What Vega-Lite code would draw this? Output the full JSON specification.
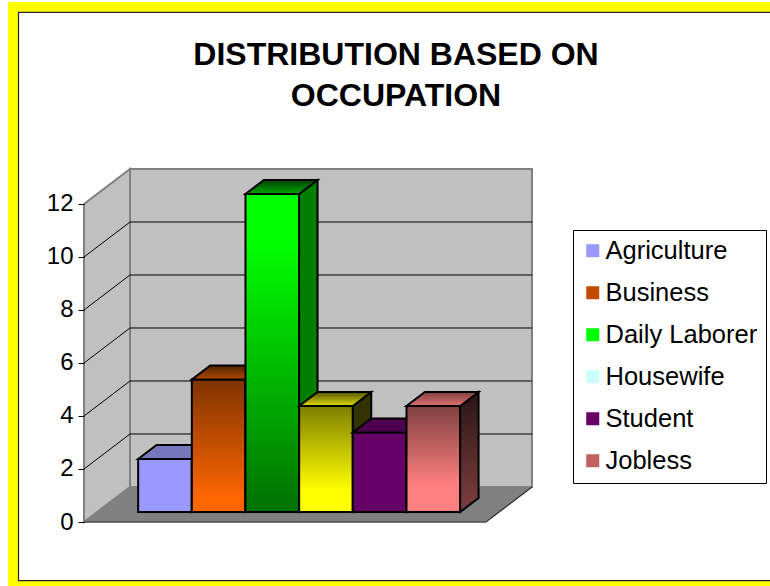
{
"$schema":"https://vega.github.io/schema/vega-lite/v6.json",
"width":448,"height":352,"autosize":"none",
"padding":{"left":84,"top":170,"right":238,"bottom":64},
"background":"white",
"title":{"text":["DISTRIBUTION BASED ON","OCCUPATION"],"anchor":"middle","frame":"group","dx":88,"font":"Liberation Sans","fontSize":32,"fontWeight":"bold","color":"black","lineHeight":41,"offset":-111,"align":"center","zindex":1},
"datasets":{
"bars":[
{"occupation":"Agriculture","value":2,"slot":0},
{"occupation":"Business","value":5,"slot":1},
{"occupation":"Daily Laborer","value":12,"slot":2},
{"occupation":"Housewife","value":4,"slot":3},
{"occupation":"Student","value":3,"slot":4},
{"occupation":"Jobless","value":4,"slot":5}],
"room":[
{"shape":"left","n":0,"u":0,"v":0,"depth":0},{"shape":"left","n":1,"u":0,"v":12,"depth":0},{"shape":"left","n":2,"u":0,"v":12,"depth":1},{"shape":"left","n":3,"u":0,"v":0,"depth":1},
{"shape":"back","n":0,"u":0,"v":0,"depth":1},{"shape":"back","n":1,"u":7.49,"v":0,"depth":1},{"shape":"back","n":2,"u":7.49,"v":12,"depth":1},{"shape":"back","n":3,"u":0,"v":12,"depth":1},
{"shape":"floor","n":0,"u":0,"v":0,"depth":0},{"shape":"floor","n":1,"u":7.49,"v":0,"depth":0},{"shape":"floor","n":2,"u":7.49,"v":0,"depth":1},{"shape":"floor","n":3,"u":0,"v":0,"depth":1},
{"shape":"edge","n":0,"u":0,"v":0,"depth":0},{"shape":"edge","n":1,"u":7.49,"v":0,"depth":0},{"shape":"edge","n":2,"u":7.49,"v":0,"depth":1}],
"grid":[{"tick":2},{"tick":4},{"tick":6},{"tick":8},{"tick":10}]
},
"layer":[
{"data":{"values":[{"x0":-1.416,"x1":13,"y0":-3,"y1":19.62}]},
 "mark":{"type":"rect","fill":"#FFFF00"},
 "encoding":{"x":{"field":"x0","type":"quantitative","scale":{"domain":[0,8.347],"nice":false,"zero":false},"axis":null},"x2":{"field":"x1"},"y":{"field":"y0","type":"quantitative","scale":{"domain":[0,13.283],"nice":false,"zero":false},"axis":{"title":null,"zindex":1,"values":[0,2,4,6,8,10,12],"domain":false,"grid":false,"tickSize":6,"tickColor":"black","tickWidth":1,"labelFont":"Liberation Sans","labelFontSize":24,"labelColor":"black","labelPadding":5}},"y2":{"field":"y1"}}},
{"data":{"values":[{"x0":-1.22,"x1":13,"y0":-2.21,"y1":19.23}]},
 "mark":{"type":"rect","fill":"white","stroke":"#222222","strokeWidth":1.2},
 "encoding":{"x":{"field":"x0","type":"quantitative"},"x2":{"field":"x1"},"y":{"field":"y0","type":"quantitative"},"y2":{"field":"y1"}}},
{"data":{"name":"room"},
 "transform":[{"filter":"datum.shape=='left'||datum.shape=='back'"},{"calculate":"datum.u+datum.depth*0.857","as":"px"},{"calculate":"datum.v+datum.depth*1.321","as":"py"}],
 "mark":{"type":"line","interpolate":"linear-closed","fill":"#C0C0C0","stroke":"#808080","strokeWidth":2},
 "encoding":{"x":{"field":"px","type":"quantitative"},"y":{"field":"py","type":"quantitative"},"detail":{"field":"shape"},"order":{"field":"n"}}},
{"data":{"name":"room"},
 "transform":[{"filter":"datum.shape=='floor'"},{"calculate":"datum.u+datum.depth*0.857","as":"px"},{"calculate":"datum.v+datum.depth*1.321","as":"py"}],
 "mark":{"type":"line","interpolate":"linear-closed","fill":"#808080","stroke":"#808080","strokeWidth":1},
 "encoding":{"x":{"field":"px","type":"quantitative"},"y":{"field":"py","type":"quantitative"},"order":{"field":"n"}}},
{"data":{"name":"room"},
 "transform":[{"filter":"datum.shape=='edge'"},{"calculate":"datum.u+datum.depth*0.857","as":"px"},{"calculate":"datum.v+datum.depth*1.321","as":"py"}],
 "mark":{"type":"line","stroke":"#303030","strokeWidth":1.2},
 "encoding":{"x":{"field":"px","type":"quantitative"},"y":{"field":"py","type":"quantitative"},"order":{"field":"n"}}},
{"data":{"name":"grid"},
 "transform":[{"calculate":"[0,1,2]","as":"n"},{"flatten":["n"]},{"calculate":"datum.n==2?7.49:0","as":"u"},{"calculate":"datum.n==0?0:1","as":"depth"},{"calculate":"datum.u+datum.depth*0.857","as":"px"},{"calculate":"datum.tick+datum.depth*1.321","as":"py"}],
 "mark":{"type":"line","stroke":"black","strokeWidth":1},
 "encoding":{"x":{"field":"px","type":"quantitative"},"y":{"field":"py","type":"quantitative"},"detail":{"field":"tick"},"order":{"field":"n"}}},
{"data":{"name":"bars"},
 "transform":[
 {"calculate":"['front','side','top']","as":"face"},{"flatten":["face"]},
 {"calculate":"[0,1,2,3]","as":"corner"},{"flatten":["corner"]},
 {"calculate":"datum.occupation+'|'+datum.face","as":"faceKey"},
 {"calculate":"datum.face=='side'?1:((datum.corner==1||datum.corner==2)?1:0)","as":"u"},
 {"calculate":"datum.face=='front'?0:(datum.face=='side'?((datum.corner==1||datum.corner==2)?1:0):(datum.corner>=2?1:0))","as":"d"},
 {"calculate":"datum.face=='top'?datum.value:(datum.corner>=2?datum.value:0)","as":"h"},
 {"calculate":"0.2857+0.4*datum.d","as":"depth"},
 {"calculate":"0.764+datum.slot+datum.u+datum.depth*0.857","as":"px"},
 {"calculate":"datum.h+datum.depth*1.321","as":"py"}],
 "encoding":{"x":{"field":"px","type":"quantitative"},"y":{"field":"py","type":"quantitative"},"order":{"field":"corner"}},
 "layer":[
 {"transform":[{"filter":"datum.faceKey=='Agriculture|front'"}],"mark":{"type":"line","interpolate":"linear-closed","stroke":"black","strokeWidth":2,"fill":"#9999FF"}},
 {"transform":[{"filter":"datum.faceKey=='Agriculture|side'"}],"mark":{"type":"line","interpolate":"linear-closed","stroke":"black","strokeWidth":2,"fill":"#4C4C7F"}},
 {"transform":[{"filter":"datum.faceKey=='Agriculture|top'"}],"mark":{"type":"line","interpolate":"linear-closed","stroke":"black","strokeWidth":2,"fill":"#7777BB"}},
 {"transform":[{"filter":"datum.faceKey=='Business|front'"}],"mark":{"type":"line","interpolate":"linear-closed","stroke":"black","strokeWidth":2,"fill":{"gradient":"linear","x1":0,"y1":0,"x2":0,"y2":1,"stops":[{"offset":0,"color":"#7F3300"},{"offset":0.9,"color":"#FF6600"},{"offset":1,"color":"#FF6600"}]}}},
 {"transform":[{"filter":"datum.faceKey=='Business|side'"}],"mark":{"type":"line","interpolate":"linear-closed","stroke":"black","strokeWidth":2,"fill":"#7F3300"}},
 {"transform":[{"filter":"datum.faceKey=='Business|top'"}],"mark":{"type":"line","interpolate":"linear-closed","stroke":"black","strokeWidth":2,"fill":{"gradient":"linear","x1":0,"y1":0,"x2":0,"y2":1,"stops":[{"offset":0,"color":"#502000"},{"offset":1,"color":"#B04800"}]}}},
 {"transform":[{"filter":"datum.faceKey=='Daily Laborer|front'"}],"mark":{"type":"line","interpolate":"linear-closed","stroke":"black","strokeWidth":2,"fill":{"gradient":"linear","x1":0,"y1":0,"x2":0,"y2":1,"stops":[{"offset":0,"color":"#00FF00"},{"offset":0.15,"color":"#00FF00"},{"offset":1,"color":"#007000"}]}}},
 {"transform":[{"filter":"datum.faceKey=='Daily Laborer|side'"}],"mark":{"type":"line","interpolate":"linear-closed","stroke":"black","strokeWidth":2,"fill":"#007F00"}},
 {"transform":[{"filter":"datum.faceKey=='Daily Laborer|top'"}],"mark":{"type":"line","interpolate":"linear-closed","stroke":"black","strokeWidth":2,"fill":{"gradient":"linear","x1":0,"y1":0,"x2":0,"y2":1,"stops":[{"offset":0,"color":"#004000"},{"offset":1,"color":"#00A800"}]}}},
 {"transform":[{"filter":"datum.faceKey=='Housewife|front'"}],"mark":{"type":"line","interpolate":"linear-closed","stroke":"black","strokeWidth":2,"fill":{"gradient":"linear","x1":0,"y1":0,"x2":0,"y2":1,"stops":[{"offset":0,"color":"#7F7F00"},{"offset":0.8,"color":"#FFFF00"},{"offset":1,"color":"#FFFF00"}]}}},
 {"transform":[{"filter":"datum.faceKey=='Housewife|side'"}],"mark":{"type":"line","interpolate":"linear-closed","stroke":"black","strokeWidth":2,"fill":"#333300"}},
 {"transform":[{"filter":"datum.faceKey=='Housewife|top'"}],"mark":{"type":"line","interpolate":"linear-closed","stroke":"black","strokeWidth":2,"fill":{"gradient":"linear","x1":0,"y1":0,"x2":0,"y2":1,"stops":[{"offset":0,"color":"#555500"},{"offset":1,"color":"#DDDD00"}]}}},
 {"transform":[{"filter":"datum.faceKey=='Student|front'"}],"mark":{"type":"line","interpolate":"linear-closed","stroke":"black","strokeWidth":2,"fill":"#660066"}},
 {"transform":[{"filter":"datum.faceKey=='Student|side'"}],"mark":{"type":"line","interpolate":"linear-closed","stroke":"black","strokeWidth":2,"fill":"#330033"}},
 {"transform":[{"filter":"datum.faceKey=='Student|top'"}],"mark":{"type":"line","interpolate":"linear-closed","stroke":"black","strokeWidth":2,"fill":"#4D004D"}},
 {"transform":[{"filter":"datum.faceKey=='Jobless|front'"}],"mark":{"type":"line","interpolate":"linear-closed","stroke":"black","strokeWidth":2,"fill":{"gradient":"linear","x1":0,"y1":0,"x2":0,"y2":1,"stops":[{"offset":0,"color":"#804040"},{"offset":0.75,"color":"#FF8080"},{"offset":1,"color":"#FF8080"}]}}},
 {"transform":[{"filter":"datum.faceKey=='Jobless|side'"}],"mark":{"type":"line","interpolate":"linear-closed","stroke":"black","strokeWidth":2,"fill":{"gradient":"linear","x1":0,"y1":0,"x2":0,"y2":1,"stops":[{"offset":0,"color":"#2A1515"},{"offset":1,"color":"#804040"}]}}},
 {"transform":[{"filter":"datum.faceKey=='Jobless|top'"}],"mark":{"type":"line","interpolate":"linear-closed","stroke":"black","strokeWidth":2,"fill":{"gradient":"linear","x1":0,"y1":0,"x2":0,"y2":1,"stops":[{"offset":0,"color":"#804040"},{"offset":1,"color":"#E07070"}]}}}
 ]},
{"data":{"name":"bars"},
 "mark":{"type":"point","filled":true,"size":0},
 "encoding":{"x":{"field":"slot","type":"quantitative"},"y":{"field":"value","type":"quantitative"},
 "color":{"field":"occupation","type":"nominal","sort":null,"scale":{"domain":["Agriculture","Business","Daily Laborer","Housewife","Student","Jobless"],
 "range":["#9999FF","#C04C00","#00FF00","#CCFFFF","#660066","#C06060"]},
 "legend":{"title":null,"orient":"none","legendX":489,"legendY":60,"symbolType":"square","symbolSize":169,"symbolOpacity":1,"labelFont":"Liberation Sans","labelFontSize":25.5,"labelColor":"black","labelLimit":300,"labelOffset":0,"rowPadding":15,"padding":8,"strokeColor":"black","fillColor":"white","symbolOffset":-1,
 "encode":{"symbols":{"update":{},
 "stroke":{"value":"black"},"strokeWidth":{"value":1.5},
 "fill":{"condition":[
 {"test":"datum.value==='Agriculture'","value":"#9999FF"},
 {"test":"datum.value==='Business'","value":{"gradient":"linear","x1":0,"y1":0,"x2":0,"y2":1,"stops":[{"offset":0,"color":"#7F3300"},{"offset":1,"color":"#FF6600"}]}},
 {"test":"datum.value==='Daily Laborer'","value":"#00FF00"},
 {"test":"datum.value==='Housewife'","value":"#CCFFFF"},
 {"test":"datum.value==='Student'","value":"#660066"},
 {"test":"datum.value==='Jobless'","value":{"gradient":"linear","x1":0,"y1":0,"x2":0,"y2":1,"stops":[{"offset":0,"color":"#804040"},{"offset":1,"color":"#FF8080"}]}}],
 "value":"#000000"}}}}}}}
]
}
